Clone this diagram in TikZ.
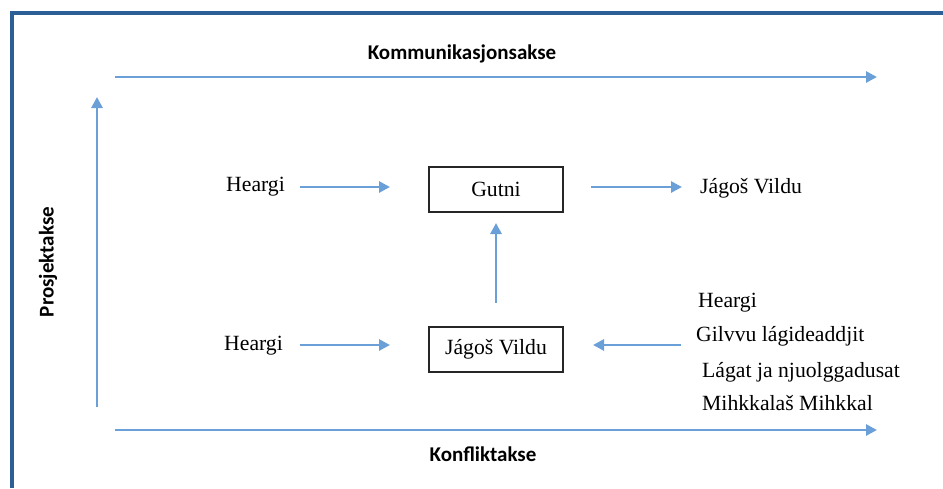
\documentclass[tikz,border=0pt]{standalone}
\usepackage{fontspec}
\setmainfont{Liberation Serif}
\newfontfamily\axisfont{Carlito}
\usetikzlibrary{arrows.meta}
\definecolor{framecol}{HTML}{2D5F97}
\definecolor{arrowcol}{HTML}{6A9FD8}
\begin{document}
\begin{tikzpicture}[x=1pt,y=-1pt,
  frameline/.style={draw=framecol,line width=3.5pt,line join=miter},
  flow/.style={draw=arrowcol,line width=2.8pt,-{Triangle[length=11pt,width=11pt]}},
  axislabel/.style={font=\axisfont\bfseries\fontsize{21}{25}\selectfont,inner sep=0pt},
  lbl/.style={font=\fontsize{21.7}{26}\selectfont,inner sep=0pt,anchor=base west},
  stepbox/.style={draw=black!85,line width=2pt,minimum width=134pt,minimum height=45pt,inner sep=0pt,font=\fontsize{21.7}{26}\selectfont}]
\useasboundingbox (0,0) rectangle (943,488);
% frame
\draw[frameline] (12,488) -- (12,13) -- (943,13);
% axes
\coordinate (tl) at (115,77);
\coordinate (tr) at (877,77);
\coordinate (bl) at (115,430);
\coordinate (br) at (877,430);
\coordinate (vb) at (97,407);
\coordinate (vt) at (97,97);
\draw[flow] (tl) -- (tr);
\draw[flow] (bl) -- (br);
\draw[flow] (vb) -- (vt);
\node[axislabel,anchor=base] (kom) at (462,59) {Kommunikasjonsakse};
\node[axislabel,anchor=base] (konf) at (483,461) {Konfliktakse};
\node[axislabel,rotate=90] (pro) at (48,262) {Prosjektakse};
% boxes
\node[stepbox] (gutni) at (496,189.5) {Gutni};
\node[stepbox] (jv) at (496,349) {Jágoš Vildu};
% texts
\node[lbl] (h1) at (226,191) {Heargi};
\node[lbl] (h2) at (224,350) {Heargi};
\node[lbl] (jvr) at (700,193) {Jágoš Vildu};
\node[lbl] (h3) at (698,307) {Heargi};
\node[lbl] (gil) at (696,341) {Gilvvu lágideaddjit};
\node[lbl] (lag) at (702,377) {Lágat ja njuolggadusat};
\node[lbl] (mih) at (702,410) {Mihkkalaš Mihkkal};
\coordinate (listin) at (681,345);
% connectors
\draw[flow,shorten <=15pt,shorten >=38pt] (h1.east |- 0,187) -- (gutni.west |- 0,187);
\draw[flow,shorten <=17pt,shorten >=38pt] (h2.east |- 0,345) -- (jv.west |- 0,345);
\draw[flow,shorten <=27pt,shorten >=18pt] (gutni.east |- 0,187) -- (jvr.west |- 0,187);
\draw[flow,shorten <=23pt,shorten >=10pt] (jv.north) -- (gutni.south);
\draw[flow,shorten >=29pt] (listin) -- (jv.east |- 0,345);
\end{tikzpicture}
\end{document}
